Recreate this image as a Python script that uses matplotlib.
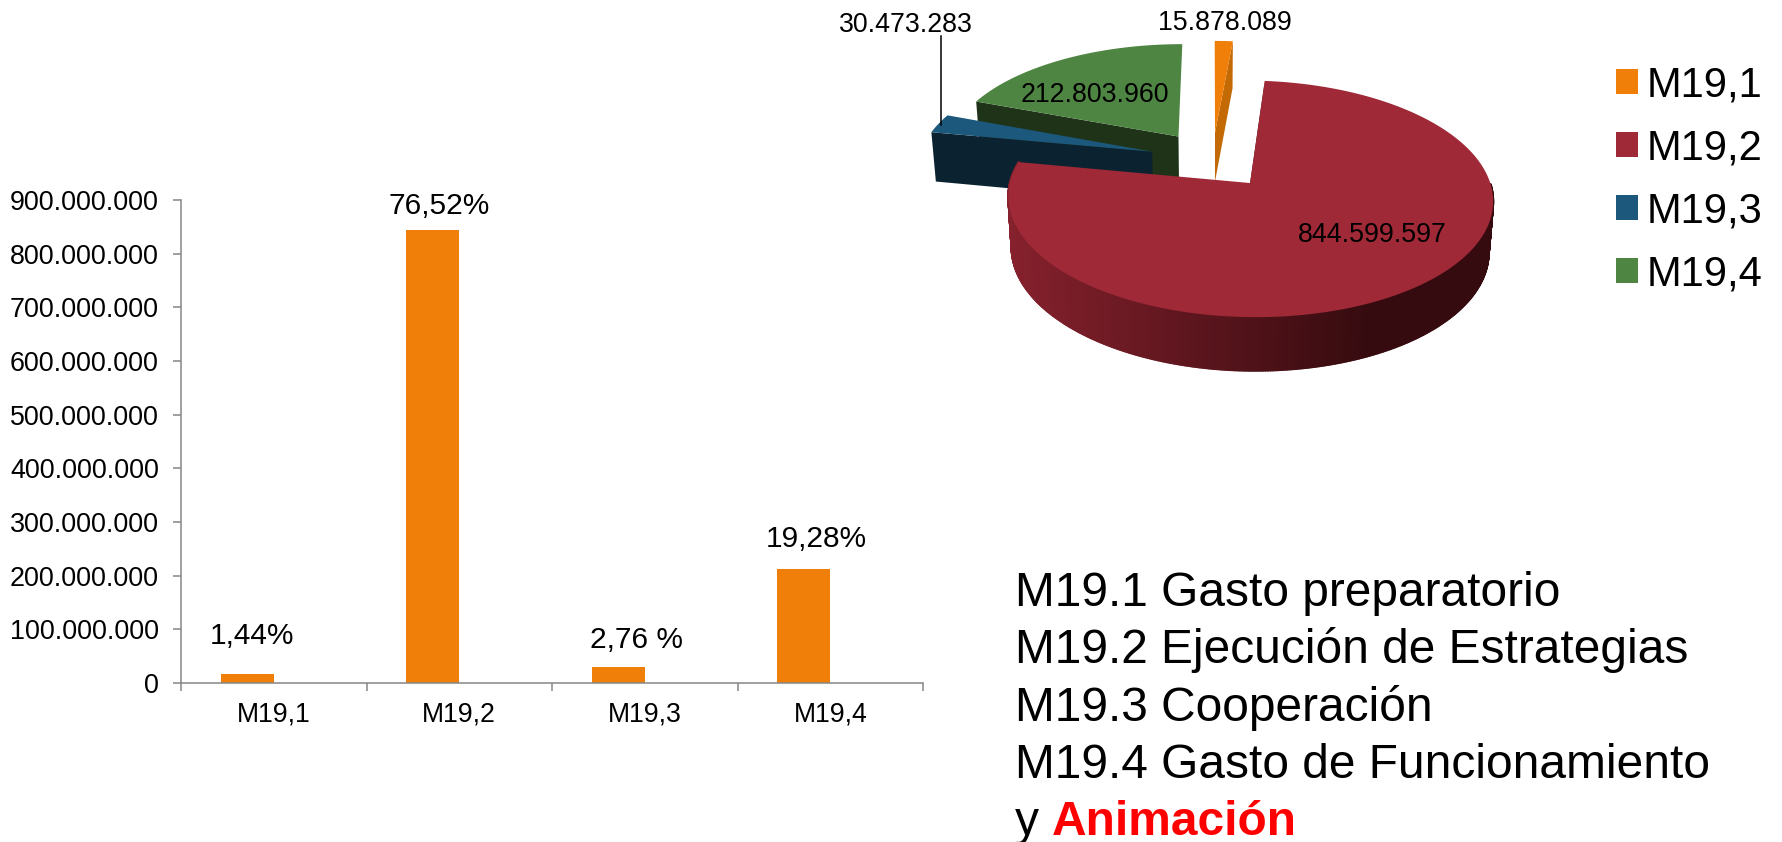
import numpy as np
import matplotlib
matplotlib.use("Agg")
import matplotlib.pyplot as plt
from matplotlib.patches import Patch, Polygon
from matplotlib.collections import PolyCollection
from matplotlib.colors import to_rgb

plt.rcParams["font.family"] = ["Liberation Sans", "DejaVu Sans"]

categories = ["M19,1", "M19,2", "M19,3", "M19,4"]
values = [15878089, 844599597, 30473283, 212803960]
percent_labels = ["1,44%", "76,52%", "2,76 %", "19,28%"]
pie_labels = ["15.878.089", "844.599.597", "30.473.283", "212.803.960"]
y_ticks = [0, 100000000, 200000000, 300000000, 400000000, 500000000, 600000000, 700000000, 800000000, 900000000]
y_tick_labels = ["0", "100.000.000", "200.000.000", "300.000.000", "400.000.000",
                 "500.000.000", "600.000.000", "700.000.000", "800.000.000", "900.000.000"]
note_lines = ["M19.1 Gasto preparatorio", "M19.2 Ejecución de Estrategias",
              "M19.3 Cooperación", "M19.4 Gasto de Funcionamiento"]

colors = ["#F07F09", "#9F2936", "#1B587C", "#4E8542"]
cut_colors = ["#C46A05", "#3A0C10", "#0B2230", "#1F3319"]
explode = [0.255, 0.26, 0.27, 0.262]

W, H = 1783, 842
fig = plt.figure(figsize=(W / 100, H / 100), dpi=100)

# overlay in pixels for pie and free text
ov = fig.add_axes([0, 0, 1, 1])
ov.set_xlim(0, W)
ov.set_ylim(H, 0)
ov.axis("off")

# bar chart
left, right, top, bottom = 181, 923, 200, 683
ax = fig.add_axes([left / W, 1 - bottom / H, (right - left) / W, (bottom - top) / H])
ax.patch.set_alpha(0)
bar_w = 0.285
pos = np.arange(len(values))
ax.bar(pos + 0.5 - bar_w, values, width=bar_w, align="edge", color=colors[0])
ax.set_xlim(0, len(values))
ax.set_ylim(0, 900000000)
ax.set_yticks(y_ticks)
ax.set_yticklabels(y_tick_labels, fontsize=19.4)
ax.set_xticks(np.arange(len(values) + 1))
ax.set_xticklabels([])
ax.set_xticks(pos + 0.5, minor=True)
ax.set_xticklabels(categories, minor=True, fontsize=19.2)
ax.tick_params(axis="y", length=6, width=1.1, color="#868686", pad=10)
ax.tick_params(axis="x", which="major", length=6, width=1.1, color="#868686")
ax.tick_params(axis="x", which="minor", length=0, pad=13)
for s in ["top", "right"]:
    ax.spines[s].set_visible(False)
for s in ["left", "bottom"]:
    ax.spines[s].set_color("#868686")
    ax.spines[s].set_linewidth(1.1)

label_xy = [(252, 636), (439, 206), (637, 640), (816, 539)]
for txt, (x, y) in zip(percent_labels, label_xy):
    ov.text(x, y, txt, fontsize=21.5, ha="center", va="center")

# 3d pie, perspective projection of a flat circle around the pie centre
cx, cy = 1212.4, 159.6
a, b, k = 233.7, 110, 0.13
dz, shrink = 50, 0.984


def project(px, py, low=False):
    w = 1 + k * py
    sx = a * px / w
    sy = cy - b * py / w
    if low:
        return cx + sx * shrink, sy + dz / w ** 0.4
    return cx + sx, sy


total = sum(values)
angles = np.cumsum([0] + [v / total * 360 for v in values])


def lerp(c1, c2, t):
    c1, c2 = np.array(to_rgb(c1)), np.array(to_rgb(c2))
    return tuple(c1 + (c2 - c1) * t)


for i in [3, 2, 0, 1]:
    a0, a1 = angles[i], angles[i + 1]
    mid = np.radians((a0 + a1) / 2)
    off = explode[i] * np.array([np.sin(mid), np.cos(mid)])
    th = np.radians(np.linspace(a0, a1, max(int(a1 - a0) * 2, 6)))
    px = off[0] + np.sin(th)
    py = off[1] + np.cos(th)
    top_x, top_y = project(px, py)
    low_x, low_y = project(px, py, low=True)
    vt = project(off[0], off[1])
    vl = project(off[0], off[1], low=True)

    # only the cut face that looks at the viewer
    e = -1 if i == 0 else 0
    ov.add_patch(Polygon([vt, (top_x[e], top_y[e]), (low_x[e], low_y[e]), vl], fc=cut_colors[i], ec="none"))

    # front rim of the big slice, shaded from left to right
    if i == 1:
        quads, shades = [], []
        for j in range(len(th) - 1):
            if np.cos(th[j]) > 0 and np.sin(th[j]) > 0:
                continue
            quads.append([(top_x[j], top_y[j]), (top_x[j + 1], top_y[j + 1]),
                          (low_x[j + 1], low_y[j + 1]), (low_x[j], low_y[j])])
            t = np.clip((top_x[j] - 1007) / 487, 0, 1)
            shades.append(lerp("#86212D", "#360B0F", min(t * 1.35, 1)))
        ov.add_collection(PolyCollection(quads, facecolors=shades, edgecolors=shades, linewidths=1.5))

    ov.add_patch(Polygon([vt] + list(zip(top_x, top_y)), fc=colors[i], ec="none"))

ov.plot([941, 941], [36, 125], color="black", lw=1.1)
pie_label_xy = [(1225, 23), (1372, 235), (906, 25), (1095, 95)]
for txt, (x, y) in zip(pie_labels, pie_label_xy):
    ov.text(x, y, txt, fontsize=19.3, ha="center", va="center")

handles = [Patch(fc=c, ec="none") for c in colors]
fig.legend(handles, categories, loc="upper left", bbox_to_anchor=(1616 / W, 1 - 65.5 / H), frameon=False,
           fontsize=30, handlelength=0.54, handleheight=0.54, handletextpad=0.19, labelspacing=0.55,
           borderpad=0, borderaxespad=0)

# note text
baselines = [606, 663, 721, 778]
for txt, y in zip(note_lines, baselines):
    ov.text(1015, y, txt, fontsize=34.5, va="baseline")
ov.text(1015, 835, "y", fontsize=34.5, va="baseline")
ov.text(1052, 835, "Animación", fontsize=34.5, va="baseline", color="#FF0000", fontweight="bold")

fig.savefig("out.png", dpi=100)
